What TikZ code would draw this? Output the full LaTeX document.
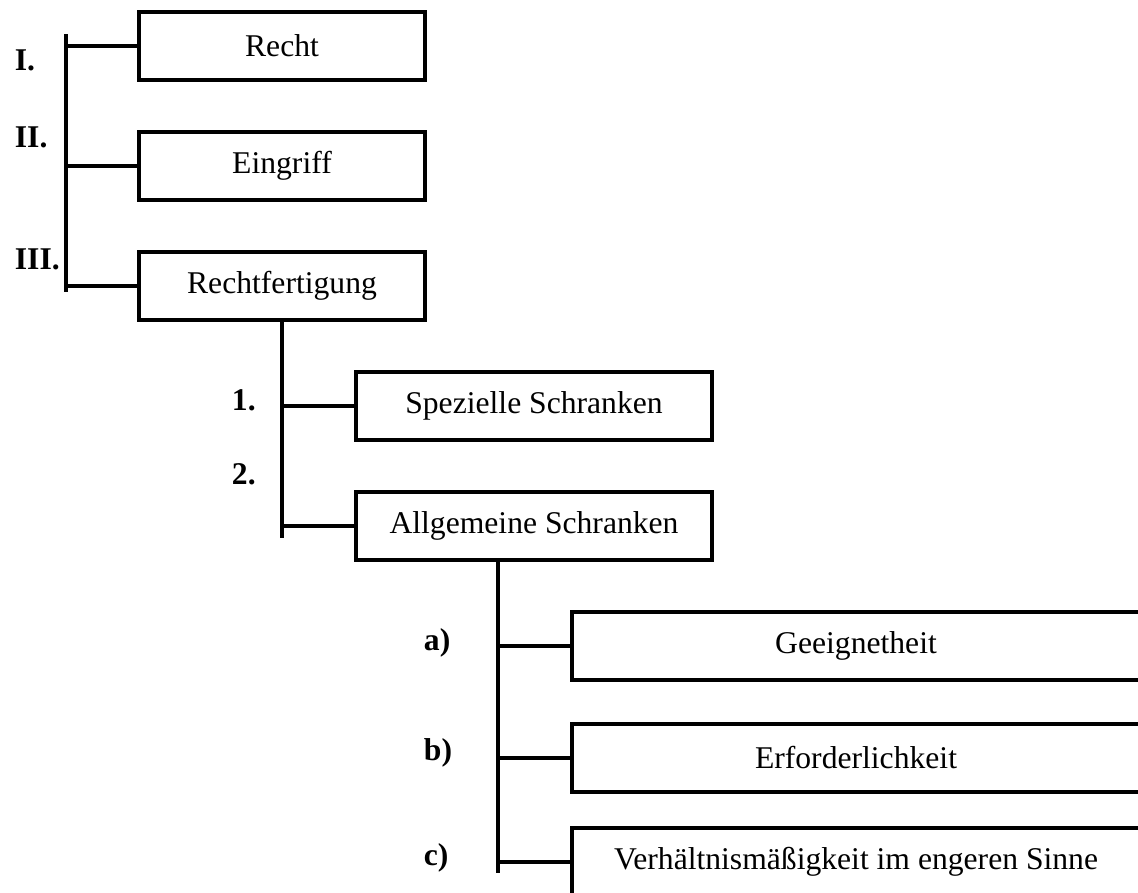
\documentclass[tikz,border=0pt]{standalone}
\usepackage{fontspec}
\setmainfont{Liberation Serif}
\usepackage{tikz}
\usetikzlibrary{positioning}

\begin{document}
\begin{tikzpicture}[node distance=2.4cm, line width=2.2pt,
    main node/.style={rectangle,draw,minimum height=1.36cm,inner sep=0pt,font=\fontsize{18}{22}\selectfont},
    num node/.style={anchor=west,inner sep=0pt,font=\fontsize{18}{22}\selectfont\bfseries}]

    \useasboundingbox (0,0) rectangle (22.76,-17.84);
    \clip (0,0) rectangle (22.76,-17.84);

    % first level
    \node[main node, minimum width=5.72cm] (0) at (5.64,-0.92) {Recht};
    \node[main node, minimum width=5.72cm] (1) [below of=0] {Eingriff};
    \node[main node, minimum width=5.72cm] (2) [below of=1] {Rechtfertigung};

    % second level
    \node[main node, minimum width=7.12cm] (3) [below of=2, xshift=5.04cm] {Spezielle Schranken};
    \node[main node, minimum width=7.12cm] (4) [below of=3] {Allgemeine Schranken};

    % third level
    \node[main node, minimum width=11.36cm] (5) [below of=4, xshift=6.44cm] {Geeignetheit};
    \node[main node, minimum width=11.36cm] (6) [below of=5, node distance=2.24cm] {Erforderlichkeit};
    \node[main node, minimum width=11.36cm] (7) [below of=6, node distance=2.08cm] {Verhältnismäßigkeit im engeren Sinne};

    % numbering
    \node[num node] (n0) at (0.26,-1.2)  {I.};
    \node[num node] (n1) at (0.26,-2.74) {II.};
    \node[num node] (n2) at (0.26,-5.18) {III.};
    \node[num node] (n3) at (4.6,-8.0)   {1.};
    \node[num node] (n4) at (4.6,-9.48)  {2.};
    \node[num node] (n5) at (8.44,-12.86) {a)};
    \node[num node] (n6) at (8.44,-15.06) {b)};
    \node[num node] (n7) at (8.44,-17.16) {c)};

    % brackets
    \coordinate (r0) at (1.32,-0.68);
    \coordinate (r1) at (1.32,-5.84);
    \coordinate (s1) at (5.64,-10.76);
    \coordinate (a1) at (9.96,-17.46);

    \draw (r0) -- (r1);
    \draw (0.west) -- (0.west -| r0);
    \draw (1.west) -- (1.west -| r0);
    \draw (2.west) -- (2.west -| r0);

    \draw (2.south) -- (s1);
    \draw (3.west) -- (3.west -| s1);
    \draw (4.west) -- (4.west -| s1);

    \draw (4.south -| a1) -- (a1);
    \draw (5.west) -- (5.west -| a1);
    \draw (6.west) -- (6.west -| a1);
    \draw (7.west) -- (7.west -| a1);
\end{tikzpicture}
\end{document}
